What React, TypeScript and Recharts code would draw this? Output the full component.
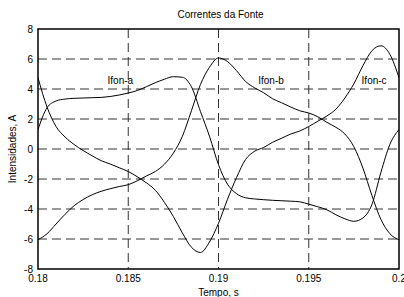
import React from 'react';
import { LineChart, Line, XAxis, YAxis, CartesianGrid, ReferenceArea, ReferenceDot } from 'recharts';

const tempo = [
  0.18, 0.1805, 0.181, 0.1815, 0.182, 0.1825, 0.183, 0.1835, 0.184, 0.1845,
  0.185, 0.1855, 0.186, 0.1865, 0.187, 0.1875, 0.188, 0.1885, 0.189, 0.1895,
  0.19, 0.1905, 0.191, 0.1915, 0.192, 0.1925, 0.193, 0.1935, 0.194, 0.1945,
  0.195, 0.1955, 0.196, 0.1965, 0.197, 0.1975, 0.198, 0.1985, 0.199, 0.1995,
  0.2,
];

const ifonA = [
  1.3, 2.75, 3.2, 3.33, 3.38, 3.4, 3.42, 3.44, 3.5, 3.6,
  3.73, 3.9, 4.15, 4.42, 4.65, 4.82, 4.78, 4.15, 2.5, 0.85,
  -1.05, -2.35, -2.98, -3.25, -3.33, -3.38, -3.42, -3.45, -3.48, -3.52,
  -3.68, -3.85, -4.05, -4.38, -4.65, -4.82, -4.6, -3.7, -1.55, 0.32,
  1.3,
];

const ifonB = [
  -6.05, -5.65, -5.0, -4.35, -3.78, -3.37, -3.05, -2.82, -2.65, -2.5,
  -2.38, -2.12, -1.8, -1.5, -1.02, -0.27, 0.85, 2.55, 4.3, 5.45,
  6.07, 5.83, 5.22, 4.5, 4.08, 3.75, 3.35, 3.08, 2.8, 2.55,
  2.4, 2.15, 1.78, 1.45, 1.0, 0.15, -1.27, -3.1, -4.7, -5.65,
  -6.05,
];

const ifonC = [
  4.75, 2.8, 1.5, 0.8, 0.3, -0.1, -0.45, -0.78, -1.0, -1.25,
  -1.5, -1.85, -2.25, -2.75, -3.55, -4.5, -5.6, -6.55, -6.9, -6.2,
  -4.95, -3.35, -1.9, -0.7, -0.15, 0.1, 0.45, 0.72, 1.0, 1.2,
  1.5, 1.85, 2.2, 2.65, 3.4, 4.35, 5.55, 6.55, 6.88, 6.3,
  4.75,
];

const xTicks = [0.18, 0.185, 0.19, 0.195, 0.2];
const yTicks = [-8, -6, -4, -2, 0, 2, 4, 6, 8];

const curveLabels = [
  { t: 0.18456, v: 4.6, text: 'Ifon-a' },
  { t: 0.19291, v: 4.6, text: 'Ifon-b' },
  { t: 0.19862, v: 4.6, text: 'Ifon-c' },
];

const data = tempo.map((t, i) => ({ t, a: ifonA[i], b: ifonB[i], c: ifonC[i] }));

const FONT = '"Liberation Sans", Arial, sans-serif';

export default function App() {
  return (
    <div style={{ position: 'absolute', left: 0, top: 0, width: 404, height: 297, background: '#fff', fontFamily: FONT }}>
      <div
        style={{
          position: 'absolute',
          left: 40,
          width: 361,
          top: 9,
          fontSize: 10,
          lineHeight: '12px',
          textAlign: 'center',
          color: '#000',
          fontFamily: FONT,
        }}
      >
        Correntes da Fonte
      </div>
      <LineChart
        width={404}
        height={297}
        data={data}
        margin={{ top: 29, right: 5, bottom: 0, left: 0 }}
      >
        <CartesianGrid
          stroke="#333"
          strokeDasharray="9 5"
          horizontalValues={[-6, -4, -2, 0, 2, 4, 6]}
          verticalValues={[0.185, 0.19, 0.195]}
        />
        <XAxis
          dataKey="t"
          type="number"
          domain={[0.18, 0.2]}
          ticks={xTicks}
          interval={0}
          allowDataOverflow
          axisLine={false}
          tickLine={false}
          tickSize={4}
          tickMargin={2}
          height={28}
          tick={{ fontSize: 10, fill: '#000', fontFamily: FONT }}
          label={{ value: 'Tempo, s', position: 'insideBottom', offset: 1, fontSize: 10, fill: '#000', fontFamily: FONT }}
        />
        <YAxis
          type="number"
          domain={[-8, 8]}
          ticks={yTicks}
          interval={0}
          allowDataOverflow
          axisLine={false}
          tickLine={false}
          tickSize={3}
          tickMargin={2}
          width={38}
          tick={{ fontSize: 10, fill: '#000', fontFamily: FONT }}
          label={{
            value: 'Intensidades, A',
            angle: -90,
            position: 'insideLeft',
            offset: 12,
            fontSize: 10,
            fill: '#000',
            fontFamily: FONT,
            style: { textAnchor: 'middle' },
          }}
        />
        <Line type="monotone" dataKey="a" stroke="#000" strokeWidth={1} dot={false} isAnimationActive={false} />
        <Line type="monotone" dataKey="b" stroke="#000" strokeWidth={1} dot={false} isAnimationActive={false} />
        <Line type="monotone" dataKey="c" stroke="#000" strokeWidth={1} dot={false} isAnimationActive={false} />
        <ReferenceArea x1={0.18} x2={0.2} y1={-8} y2={8} fill="none" fillOpacity={0} stroke="#000" strokeWidth={1.5} ifOverflow="visible" />
        {curveLabels.map((l) => (
          <ReferenceDot
            key={l.text}
            x={l.t}
            y={l.v}
            r={1}
            fill="none"
            stroke="none"
            ifOverflow="visible"
            label={{ value: l.text, position: 'center', fontSize: 10, fill: '#000', fontFamily: FONT }}
          />
        ))}
      </LineChart>
    </div>
  );
}
